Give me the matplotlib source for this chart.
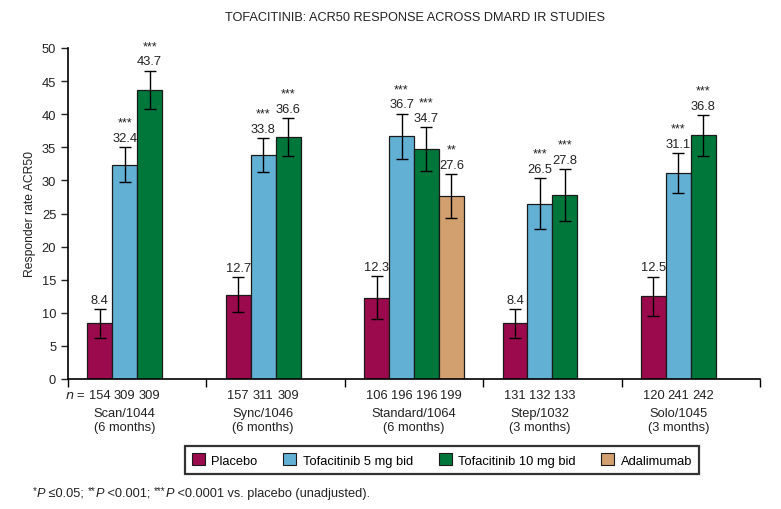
import matplotlib
matplotlib.use("Agg")
import matplotlib.pyplot as plt
from matplotlib.patches import Patch
import numpy as np

plt.rcParams['font.family'] = ['Liberation Sans', 'DejaVu Sans']

# ---- data ----
studies = ["Scan/1044", "Sync/1046", "Standard/1064", "Step/1032", "Solo/1045"]
durations = ["(6 months)", "(6 months)", "(6 months)", "(3 months)", "(3 months)"]
series = ["Placebo", "Tofacitinib 5 mg bid", "Tofacitinib 10 mg bid", "Adalimumab"]
colors = ["#9A0A4C", "#63B0D5", "#00773A", "#D2A06E"]

placebo = [8.4, 12.7, 12.3, 8.4, 12.5]
tofa5 = [32.4, 33.8, 36.7, 26.5, 31.1]
tofa10 = [43.7, 36.6, 34.7, 27.8, 36.8]
adalimumab = [None, None, 27.6, None, None]

placebo_err = [2.2, 2.65, 3.2, 2.15, 2.95]
tofa5_err = [2.65, 2.6, 3.4, 3.8, 3.0]
tofa10_err = [2.9, 2.85, 3.35, 3.9, 3.05]
adalimumab_err = [None, None, 3.3, None, None]

placebo_sig = ["", "", "", "", ""]
tofa5_sig = ["***", "***", "***", "***", "***"]
tofa10_sig = ["***", "***", "***", "***", "***"]
adalimumab_sig = [None, None, "**", None, None]

n_placebo = [154, 157, 106, 131, 120]
n_tofa5 = [309, 311, 196, 132, 241]
n_tofa10 = [309, 309, 196, 133, 242]
n_adalimumab = [None, None, 199, None, None]

values = [placebo, tofa5, tofa10, adalimumab]
errors = [placebo_err, tofa5_err, tofa10_err, adalimumab_err]
sigs = [placebo_sig, tofa5_sig, tofa10_sig, adalimumab_sig]
ns = [n_placebo, n_tofa5, n_tofa10, n_adalimumab]

# ---- figure ----
fig = plt.figure(figsize=(7.81, 5.10), dpi=100)
ax = fig.add_axes([68/781, 1-380/510, (760-68)/781, (380-49)/510])

w = 0.18
offsets = np.array([-1.5, -0.5, 0.5, 1.5]) * w
fs = 9.3
tc = '#222222'

for g in range(len(studies)):
    xs_used = []
    for s in range(len(series)):
        v = values[s][g]
        if v is None:
            continue
        x = g + offsets[s]
        xs_used.append(x)
        e = errors[s][g]
        ax.bar(x, v, width=w, color=colors[s], edgecolor="#1a1a1a", linewidth=0.9, zorder=2)
        ax.errorbar(x, v, yerr=e, fmt='none', ecolor='black', elinewidth=1.0,
                    capsize=4, capthick=1.0, zorder=3)
        ax.annotate(f"{v:.1f}", xy=(x, v + e), xytext=(0, 4.5), textcoords='offset points',
                    ha='center', va='baseline', fontsize=fs, color=tc)
        if sigs[s][g]:
            ax.annotate(sigs[s][g], xy=(x, v + e), xytext=(0, 15.5), textcoords='offset points',
                        ha='center', va='baseline', fontsize=9, color=tc)
        ax.annotate(str(ns[s][g]), xy=(x, 0), xycoords=('data', 'axes fraction'),
                    xytext=(0, -7.5), textcoords='offset points',
                    ha='center', va='top', fontsize=fs, color=tc)
    cx = np.mean(xs_used)
    ax.annotate(studies[g] + "\n" + durations[g], xy=(cx, 0), xycoords=('data', 'axes fraction'),
                xytext=(0, -20), textcoords='offset points', ha='center', va='top',
                fontsize=fs, color=tc, linespacing=1.2)

# "n =" prefix
ax.annotate(r"$\it{n}$ =", xy=(0 + offsets[0] - w/2 - 0.01, 0), xycoords=('data', 'axes fraction'),
            xytext=(0, -7.5), textcoords='offset points', ha='right', va='top',
            fontsize=fs, color=tc)

ax.set_xlim(-0.5, len(studies) - 0.5)
ax.set_ylim(0, 50)
ax.set_yticks(np.arange(0, 51, 5))
ax.set_xticks([])
ax.set_xticks(np.arange(-0.5, len(studies), 1.0), minor=True)
ax.tick_params(axis='x', which='minor', length=6, width=1.0, direction='out', labelbottom=False)
ax.tick_params(axis='y', length=5, width=1.0, labelsize=fs, colors=tc)
for sp in ['top', 'right']:
    ax.spines[sp].set_visible(False)
for sp in ['left', 'bottom']:
    ax.spines[sp].set_linewidth(1.2)
ax.set_ylabel("Responder rate ACR50", fontsize=8.7, color=tc, labelpad=4)

fig.text(415/781, 1-18/510, "TOFACITINIB: ACR50 RESPONSE ACROSS DMARD IR STUDIES",
         ha='center', va='center', fontsize=9.2, color=tc,
         family=['Liberation Sans Narrow', 'Liberation Sans', 'DejaVu Sans'])

handles = [Patch(facecolor=c, edgecolor='#1a1a1a', linewidth=0.8, label=l) for c, l in zip(colors, series)]
leg = fig.legend(handles=handles, loc='center', bbox_to_anchor=(442/781, 1-461/510), ncol=4,
                 fontsize=fs, frameon=True, fancybox=False, handlelength=1.0, handleheight=1.0,
                 handletextpad=0.5, columnspacing=2.0, borderpad=0.55)
leg.get_frame().set_edgecolor('black')
leg.get_frame().set_linewidth(1.6)

# footnote, built piece by piece on a common baseline
pieces = [("*", 7, 'normal', 3.0), ("P", 9.2, 'italic', 0), (" \u22640.05; ", 9.2, 'normal', 0),
          ("**", 7, 'normal', 3.0), ("P", 9.2, 'italic', 0), (" <0.001; ", 9.2, 'normal', 0),
          ("***", 7, 'normal', 3.0), ("P", 9.2, 'italic', 0),
          (" <0.0001 vs. placebo (unadjusted).", 9.2, 'normal', 0)]
fig.canvas.draw()
renderer = fig.canvas.get_renderer()
xpix = 33.0
ybase = 497.0
H = 510.0
for txt, size, style, dy in pieces:
    t = fig.text(xpix / 781, 1 - (ybase - dy) / H, txt, fontsize=size, style=style,
                 color=tc, ha='left', va='baseline')
    bb = t.get_window_extent(renderer=renderer)
    xpix += bb.width

fig.savefig("out.png", dpi=100)
